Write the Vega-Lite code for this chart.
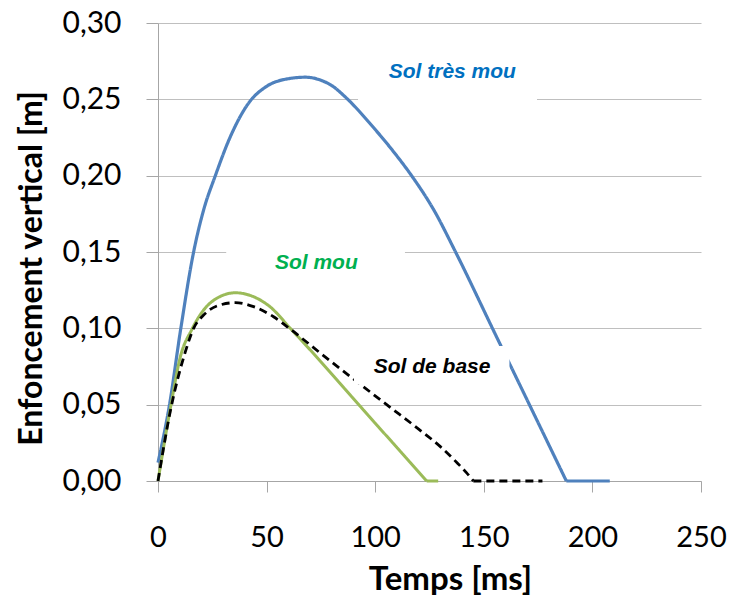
{
  "$schema": "https://vega.github.io/schema/vega-lite/v6.json",
  "autosize": {"type": "none"},
  "padding": {"left": 158, "top": 23, "right": 28, "bottom": 115},
  "width": 543,
  "height": 458,
  "background": "white",
  "config": {"view": {"stroke": null}},
  "datasets": {
    "curves": [
      {"serie": "Sol très mou", "seg": "a", "t": 0, "d": 0.012},
      {"serie": "Sol très mou", "seg": "a", "t": 5.3, "d": 0.05},
      {"serie": "Sol très mou", "seg": "a", "t": 10.5, "d": 0.10},
      {"serie": "Sol très mou", "seg": "a", "t": 16.4, "d": 0.15},
      {"serie": "Sol très mou", "seg": "a", "t": 21, "d": 0.1775},
      {"serie": "Sol très mou", "seg": "a", "t": 26.4, "d": 0.20},
      {"serie": "Sol très mou", "seg": "a", "t": 33.3, "d": 0.2255},
      {"serie": "Sol très mou", "seg": "a", "t": 41.7, "d": 0.2475},
      {"serie": "Sol très mou", "seg": "a", "t": 50, "d": 0.2585},
      {"serie": "Sol très mou", "seg": "a", "t": 60, "d": 0.2635},
      {"serie": "Sol très mou", "seg": "a", "t": 68, "d": 0.2645},
      {"serie": "Sol très mou", "seg": "a", "t": 75, "d": 0.2625},
      {"serie": "Sol très mou", "seg": "a", "t": 80, "d": 0.259},
      {"serie": "Sol très mou", "seg": "a", "t": 87, "d": 0.2505},
      {"serie": "Sol très mou", "seg": "a", "t": 98, "d": 0.2335},
      {"serie": "Sol très mou", "seg": "a", "t": 108, "d": 0.2165},
      {"serie": "Sol très mou", "seg": "a", "t": 117, "d": 0.1995},
      {"serie": "Sol très mou", "seg": "a", "t": 127, "d": 0.1775},
      {"serie": "Sol très mou", "seg": "a", "t": 137, "d": 0.15},
      {"serie": "Sol très mou", "seg": "a", "t": 155, "d": 0.097},
      {"serie": "Sol très mou", "seg": "a", "t": 171, "d": 0.050},
      {"serie": "Sol très mou", "seg": "a", "t": 188, "d": 0},
      {"serie": "Sol très mou", "seg": "b", "t": 188, "d": 0},
      {"serie": "Sol très mou", "seg": "b", "t": 208, "d": 0},
      {"serie": "Sol mou", "seg": "a", "t": 0, "d": 0},
      {"serie": "Sol mou", "seg": "a", "t": 6, "d": 0.05},
      {"serie": "Sol mou", "seg": "a", "t": 10.3, "d": 0.0814},
      {"serie": "Sol mou", "seg": "a", "t": 15.6, "d": 0.0993},
      {"serie": "Sol mou", "seg": "a", "t": 21, "d": 0.112},
      {"serie": "Sol mou", "seg": "a", "t": 27.1, "d": 0.1197},
      {"serie": "Sol mou", "seg": "a", "t": 35.6, "d": 0.1233},
      {"serie": "Sol mou", "seg": "a", "t": 44, "d": 0.1207},
      {"serie": "Sol mou", "seg": "a", "t": 51.7, "d": 0.114},
      {"serie": "Sol mou", "seg": "a", "t": 60.9, "d": 0.100},
      {"serie": "Sol mou", "seg": "a", "t": 70, "d": 0.086},
      {"serie": "Sol mou", "seg": "a", "t": 92.3, "d": 0.0502},
      {"serie": "Sol mou", "seg": "a", "t": 108, "d": 0.0251},
      {"serie": "Sol mou", "seg": "a", "t": 123.7, "d": 0},
      {"serie": "Sol mou", "seg": "b", "t": 123.7, "d": 0},
      {"serie": "Sol mou", "seg": "b", "t": 129, "d": 0},
      {"serie": "Sol de base", "seg": "a", "t": 0, "d": 0},
      {"serie": "Sol de base", "seg": "a", "t": 6, "d": 0.048},
      {"serie": "Sol de base", "seg": "a", "t": 12.6, "d": 0.0847},
      {"serie": "Sol de base", "seg": "a", "t": 16.4, "d": 0.100},
      {"serie": "Sol de base", "seg": "a", "t": 21, "d": 0.1087},
      {"serie": "Sol de base", "seg": "a", "t": 27.1, "d": 0.1146},
      {"serie": "Sol de base", "seg": "a", "t": 35.6, "d": 0.1168},
      {"serie": "Sol de base", "seg": "a", "t": 44, "d": 0.1142},
      {"serie": "Sol de base", "seg": "a", "t": 53.2, "d": 0.1076},
      {"serie": "Sol de base", "seg": "a", "t": 60.9, "d": 0.0995},
      {"serie": "Sol de base", "seg": "a", "t": 75, "d": 0.0835},
      {"serie": "Sol de base", "seg": "a", "t": 90, "d": 0.0668},
      {"serie": "Sol de base", "seg": "a", "t": 105, "d": 0.0503},
      {"serie": "Sol de base", "seg": "a", "t": 120, "d": 0.034},
      {"serie": "Sol de base", "seg": "a", "t": 130, "d": 0.0225},
      {"serie": "Sol de base", "seg": "a", "t": 138, "d": 0.0115},
      {"serie": "Sol de base", "seg": "a", "t": 142, "d": 0.0055},
      {"serie": "Sol de base", "seg": "a", "t": 145.2, "d": 0},
      {"serie": "Sol de base", "seg": "b", "t": 145.2, "d": 0},
      {"serie": "Sol de base", "seg": "b", "t": 177, "d": 0}
    ],
    "boxes": [
      {"t1": 92.1, "t2": 174.5, "d1": 0.245, "d2": 0.285},
      {"t1": 31.4, "t2": 113.7, "d1": 0.132, "d2": 0.157},
      {"t1": 90.2, "t2": 161.8, "d1": 0.063, "d2": 0.0885}
    ],
    "labels": [
      {"serie": "Sol très mou", "t": 135.5, "d": 0.268},
      {"serie": "Sol mou", "t": 72.9, "d": 0.143},
      {"serie": "Sol de base", "t": 126.2, "d": 0.0747}
    ]
  },
  "layer": [
    {
      "data": {"name": "curves"},
      "mark": {"type": "line", "interpolate": "monotone", "strokeCap": "butt", "strokeJoin": "round"},
      "encoding": {
        "x": {
          "field": "t", "type": "quantitative",
          "scale": {"domain": [0, 250], "nice": false},
          "axis": {
            "title": "Temps [ms]",
            "values": [0, 50, 100, 150, 200, 250],
            "grid": false,
            "domainColor": "#A6A6A6",
            "tickColor": "#A6A6A6",
            "tickSize": 11,
            "labelPadding": 31,
            "labelFont": "Lato",
            "labelFontSize": 29,
            "labelColor": "#000000",
            "labelFlush": false,
            "titleFont": "Lato",
            "titleFontSize": 33,
            "titleFontWeight": "bold",
            "titleColor": "#000000",
            "titlePadding": 11,
            "titleX": 292
          }
        },
        "y": {
          "field": "d", "type": "quantitative",
          "scale": {"domain": [0, 0.3], "nice": false},
          "axis": {
            "title": "Enfoncement vertical [m]",
            "values": [0, 0.05, 0.1, 0.15, 0.2, 0.25, 0.3],
            "labelExpr": "replace(format(datum.value, '.2f'), '.', ',')",
            "grid": true,
            "gridColor": "#BFBFBF",
            "gridWidth": 1,
            "domainColor": "#A6A6A6",
            "tickColor": "#A6A6A6",
            "tickSize": 12,
            "labelPadding": 25,
            "labelFont": "Lato",
            "labelFontSize": 30,
            "labelColor": "#000000",
            "labelFlush": false,
            "titleFont": "Lato",
            "titleFontSize": 32,
            "titleFontWeight": "bold",
            "titleColor": "#000000",
            "titlePadding": 13,
            "titleY": 245
          }
        },
        "color": {
          "field": "serie", "type": "nominal",
          "scale": {"domain": ["Sol très mou", "Sol mou", "Sol de base"], "range": ["#4F81BD", "#9BBB59", "#000000"]},
          "legend": null
        },
        "strokeDash": {
          "field": "serie", "type": "nominal",
          "scale": {"domain": ["Sol très mou", "Sol mou", "Sol de base"], "range": [[1, 0], [1, 0], [8, 5]]},
          "legend": null
        },
        "strokeWidth": {
          "field": "serie", "type": "nominal",
          "scale": {"domain": ["Sol très mou", "Sol mou", "Sol de base"], "range": [3.2, 2.8, 2.6]},
          "legend": null
        },
        "detail": {"field": "seg", "type": "nominal"},
        "order": {"field": "t", "type": "quantitative"}
      }
    },
    {
      "data": {"name": "boxes"},
      "mark": {"type": "rect", "fill": "white", "stroke": null},
      "encoding": {
        "x": {"field": "t1", "type": "quantitative"},
        "x2": {"field": "t2"},
        "y": {"field": "d1", "type": "quantitative"},
        "y2": {"field": "d2"}
      }
    },
    {
      "data": {"name": "labels"},
      "mark": {"type": "text", "font": "Liberation Sans", "fontSize": 21, "fontWeight": "bold", "fontStyle": "italic", "align": "center", "baseline": "middle"},
      "encoding": {
        "x": {"field": "t", "type": "quantitative"},
        "y": {"field": "d", "type": "quantitative"},
        "text": {"field": "serie"},
        "color": {
          "field": "serie", "type": "nominal",
          "scale": {"domain": ["Sol très mou", "Sol mou", "Sol de base"], "range": ["#0070C0", "#00B050", "#000000"]},
          "legend": null
        }
      }
    }
  ],
  "resolve": {"scale": {"color": "independent"}}
}
